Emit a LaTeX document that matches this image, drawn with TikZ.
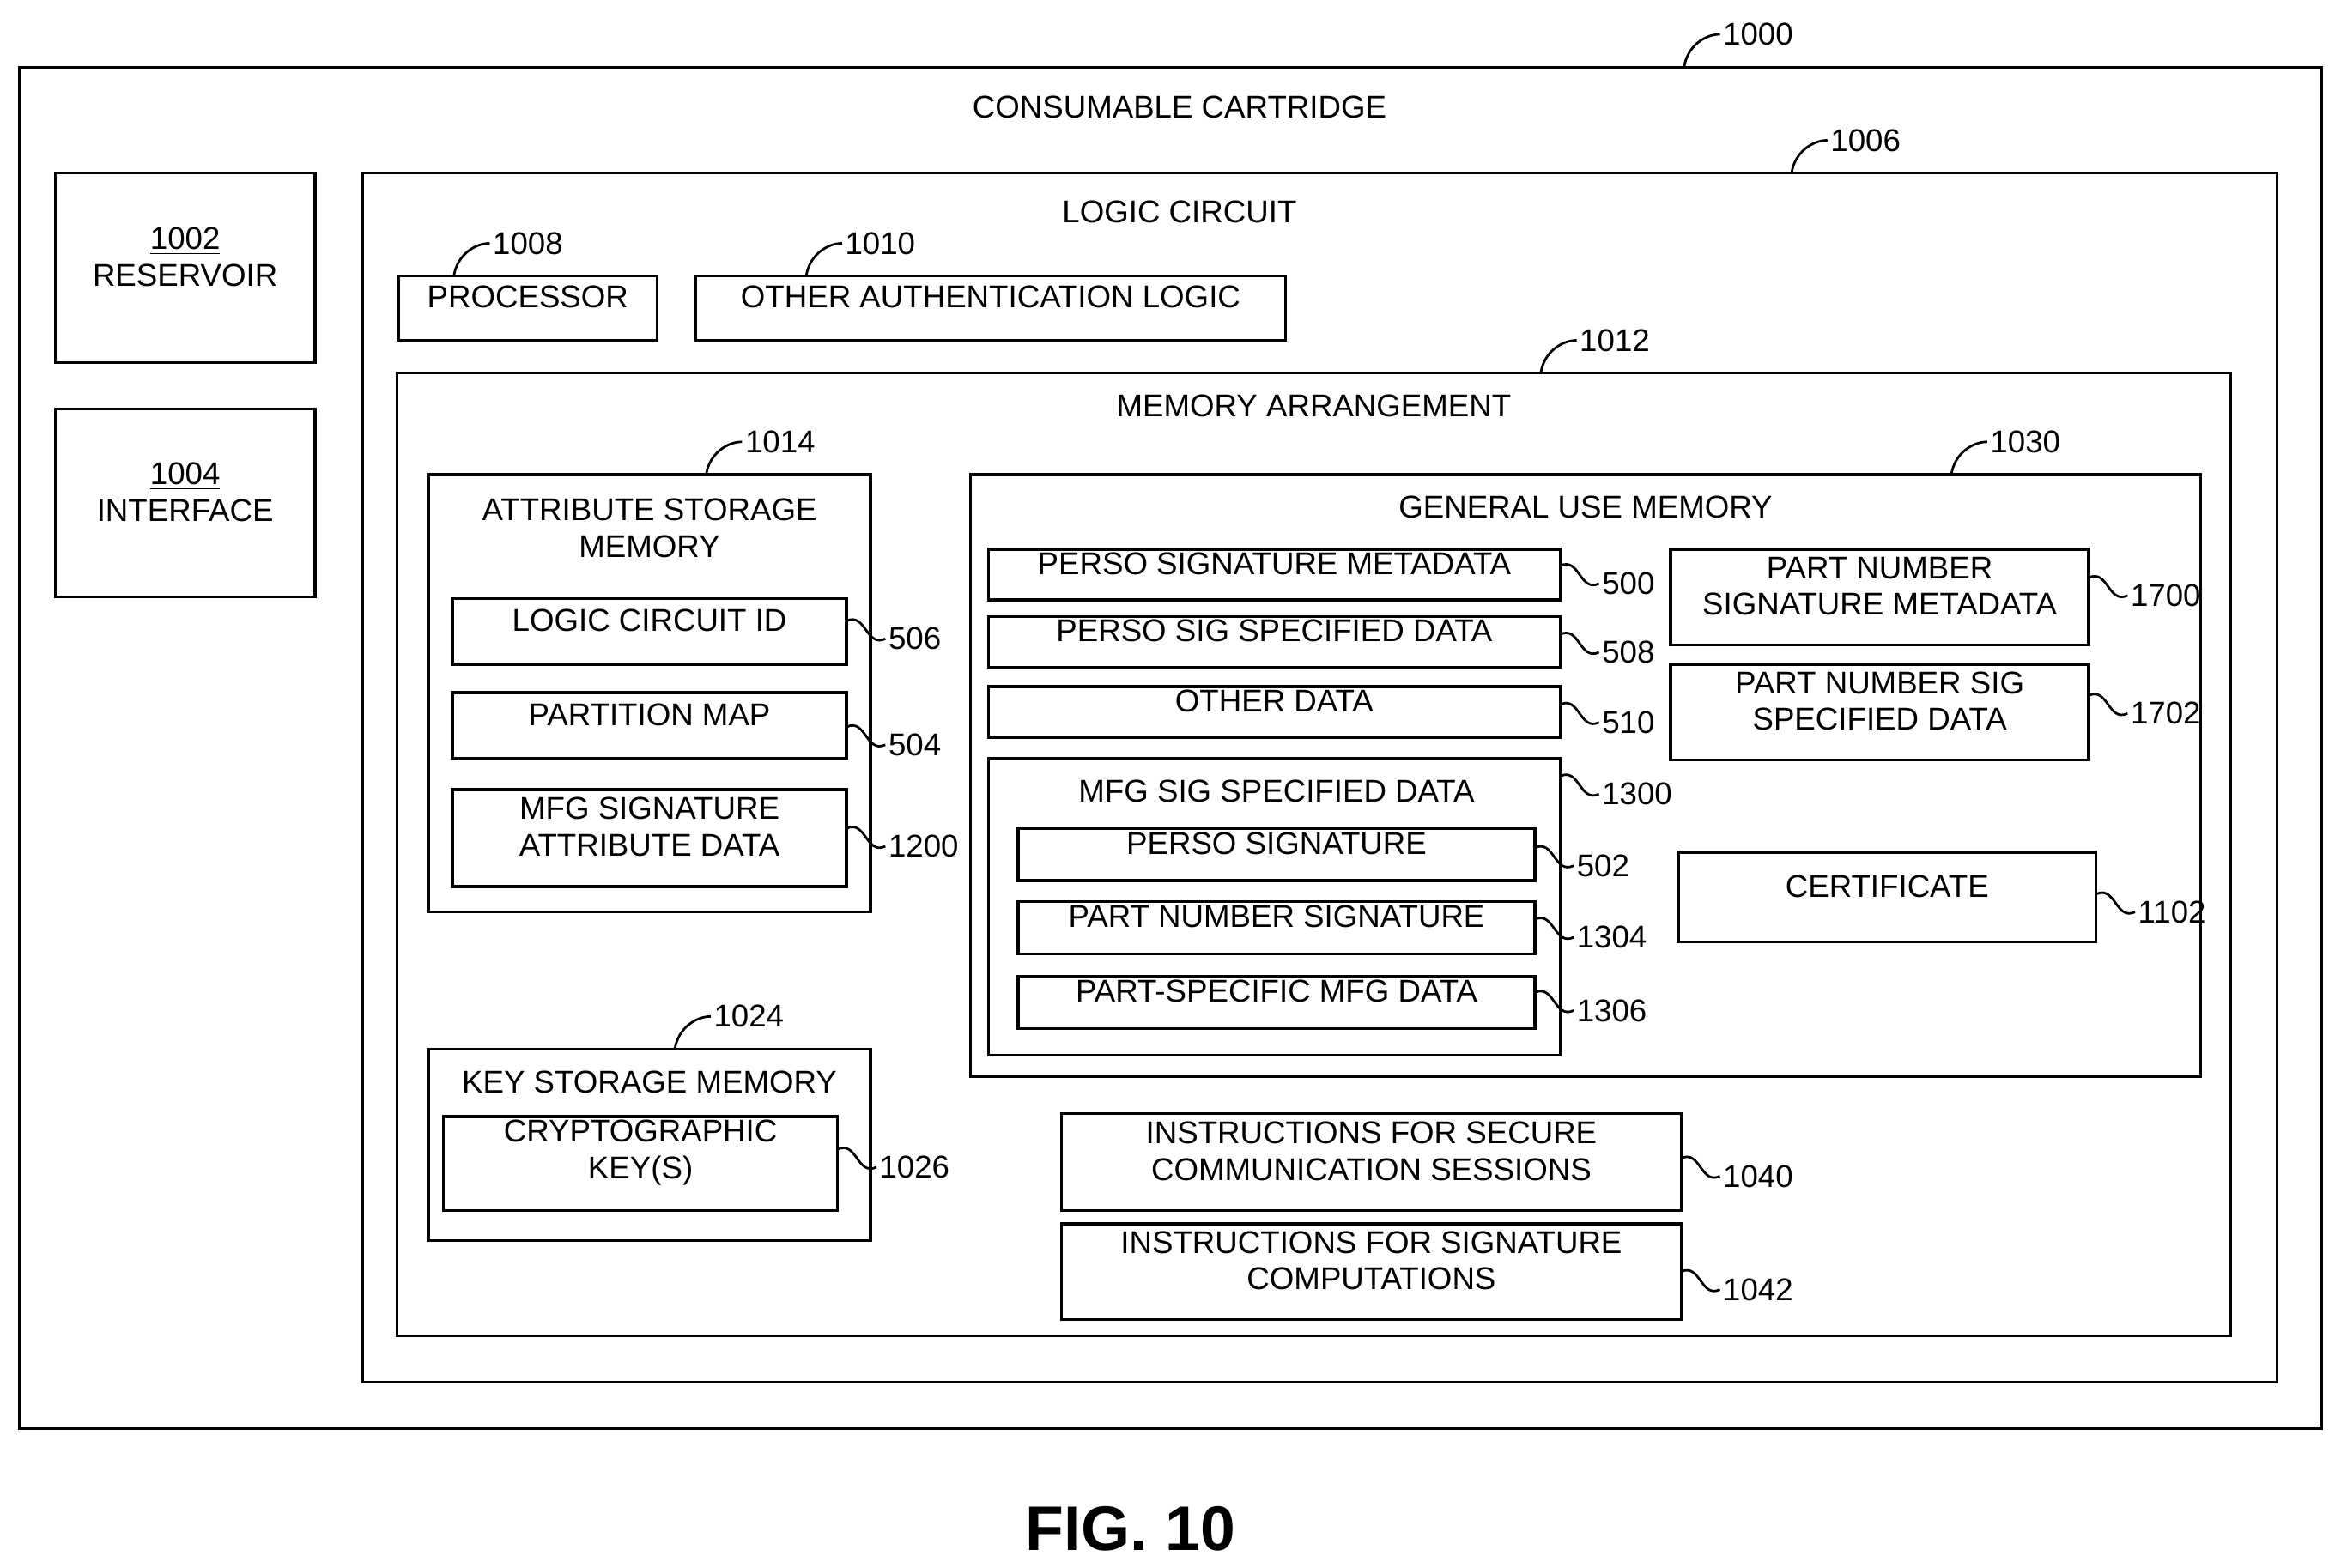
\documentclass[tikz,border=0pt]{standalone}
\usepackage{fontspec}
\setmainfont{Liberation Sans}
\usetikzlibrary{calc, fit, positioning}
\tikzset{
  box/.style={draw, line width=1.1pt, inner sep=0pt, align=center, font=\fontsize{12}{14}\selectfont},
  ttl/.style={font=\fontsize{12}{14}\selectfont, align=center},
  num/.style={font=\fontsize{12}{14}\selectfont, inner sep=1pt},
  lead/.style={line width=0.9pt}
}
% box from corners
\newcommand{\bx}[6]{\node[box, fit={(#2,#3)(#4,#5)}] (#1) {#6};}
% hooked reference number above a box edge
\newcommand{\hook}[4]{%
  \coordinate (#1) at (#2,#3);
  \node[num, anchor=west] (#1n) at (#2+24,#3-22) {#4};
  \draw[lead] (#1) .. controls +(2,-14) and +(-10,0) .. (#1n.west);}
% squiggle to a reference number on the right
\newcommand{\squig}[4]{%
  \coordinate (#1) at (#2,#3);
  \node[num, anchor=west] (#1n) at (#2+26,#3+12) {#4};
  \draw[lead] (#1) .. controls ($(#1)!0.5!(#1n.west)+(0,-12)$) and ($(#1)!0.5!(#1n.west)+(0,12)$) .. (#1n.west);}
\begin{document}
\begin{tikzpicture}[x=0.02cm, y=-0.02cm]
    \useasboundingbox (0,0) rectangle (1568,1050);
    % Cartucho
    \bx{cart}{13}{45}{1555}{957}{}
    \node[ttl] (cartT) at (790,72) {CONSUMABLE CARTRIDGE};
    \hook{r1000}{1128}{45}{1000}
    \bx{res}{37}{116}{211}{243}{\underline{1002}\\RESERVOIR}
    \bx{intf}{37}{274}{211}{400}{\underline{1004}\\INTERFACE}

    % Circuito logico
    \bx{logic}{243}{116}{1525}{926}{}
    \node[ttl] (logicT) at (790,142) {LOGIC CIRCUIT};
    \hook{r1006}{1200}{116}{1006}
    \bx{proc}{267}{185}{440}{228}{PROCESSOR}
    \hook{r1008}{304}{185}{1008}
    \bx{auth}{466}{185}{861}{228}{OTHER AUTHENTICATION LOGIC}
    \hook{r1010}{540}{185}{1010}

    % Memoria
    \bx{mem}{266}{250}{1494}{895}{}
    \node[ttl] (memT) at (880,272) {MEMORY ARRANGEMENT};
    \hook{r1012}{1032}{250}{1012}

    \bx{attr}{287}{318}{583}{611}{}
    \node[ttl] (attrT) at (435,354) {ATTRIBUTE STORAGE\\MEMORY};
    \hook{r1014}{473}{318}{1014}
    \bx{lcid}{303}{401}{567}{445}{LOGIC CIRCUIT ID}
    \squig{r506}{567}{416}{506}
    \bx{pmap}{303}{464}{567}{508}{PARTITION MAP}
    \squig{r504}{567}{487}{504}
    \bx{mfgattr}{303}{529}{567}{594}{MFG SIGNATURE\\ATTRIBUTE DATA}
    \squig{r1200}{567}{555}{1200}

    \bx{keys}{287}{703}{583}{831}{}
    \node[ttl] (keysT) at (435,725) {KEY STORAGE MEMORY};
    \hook{r1024}{452}{703}{1024}
    \bx{crypt}{297}{748}{561}{811}{CRYPTOGRAPHIC\\KEY(S)}
    \squig{r1026}{561}{770}{1026}

    % Memoria de uso general
    \bx{gum}{650}{318}{1474}{721}{}
    \node[ttl] (gumT) at (1062,340) {GENERAL USE MEMORY};
    \hook{r1030}{1307}{318}{1030}
    \bx{psm}{662}{368}{1045}{402}{PERSO SIGNATURE METADATA}
    \squig{r500}{1045}{379}{500}
    \bx{pssd}{662}{413}{1045}{447}{PERSO SIG SPECIFIED DATA}
    \squig{r508}{1045}{425}{508}
    \bx{oth}{662}{460}{1045}{494}{OTHER DATA}
    \squig{r510}{1045}{472}{510}
    \bx{mfgsd}{662}{508}{1045}{707}{}
    \node[ttl] (mfgsdT) at (855,530) {MFG SIG SPECIFIED DATA};
    \squig{r1300}{1045}{520}{1300}
    \bx{psig}{682}{555}{1028}{590}{PERSO SIGNATURE}
    \squig{r502}{1028}{568}{502}
    \bx{pnsig}{682}{604}{1028}{639}{PART NUMBER SIGNATURE}
    \squig{r1304}{1028}{616}{1304}
    \bx{psmd}{682}{654}{1028}{689}{PART-SPECIFIC MFG DATA}
    \squig{r1306}{1028}{665}{1306}
    \bx{pnsm}{1119}{368}{1399}{432}{PART NUMBER\\SIGNATURE METADATA}
    \squig{r1700}{1399}{387}{1700}
    \bx{pnsd}{1119}{445}{1399}{509}{PART NUMBER SIG\\SPECIFIED DATA}
    \squig{r1702}{1399}{466}{1702}
    \bx{cert}{1124}{571}{1404}{631}{CERTIFICATE}
    \squig{r1102}{1404}{599}{1102}

    % Instrucciones
    \bx{isec}{711}{746}{1126}{811}{INSTRUCTIONS FOR SECURE\\COMMUNICATION SESSIONS}
    \squig{r1040}{1126}{776}{1040}
    \bx{isig}{711}{820}{1126}{884}{INSTRUCTIONS FOR SIGNATURE\\COMPUTATIONS}
    \squig{r1042}{1126}{852}{1042}

    \node[font=\bfseries\fontsize{24}{28}\selectfont] (fig) at (757,1024) {FIG. 10};
\end{tikzpicture}
\end{document}
